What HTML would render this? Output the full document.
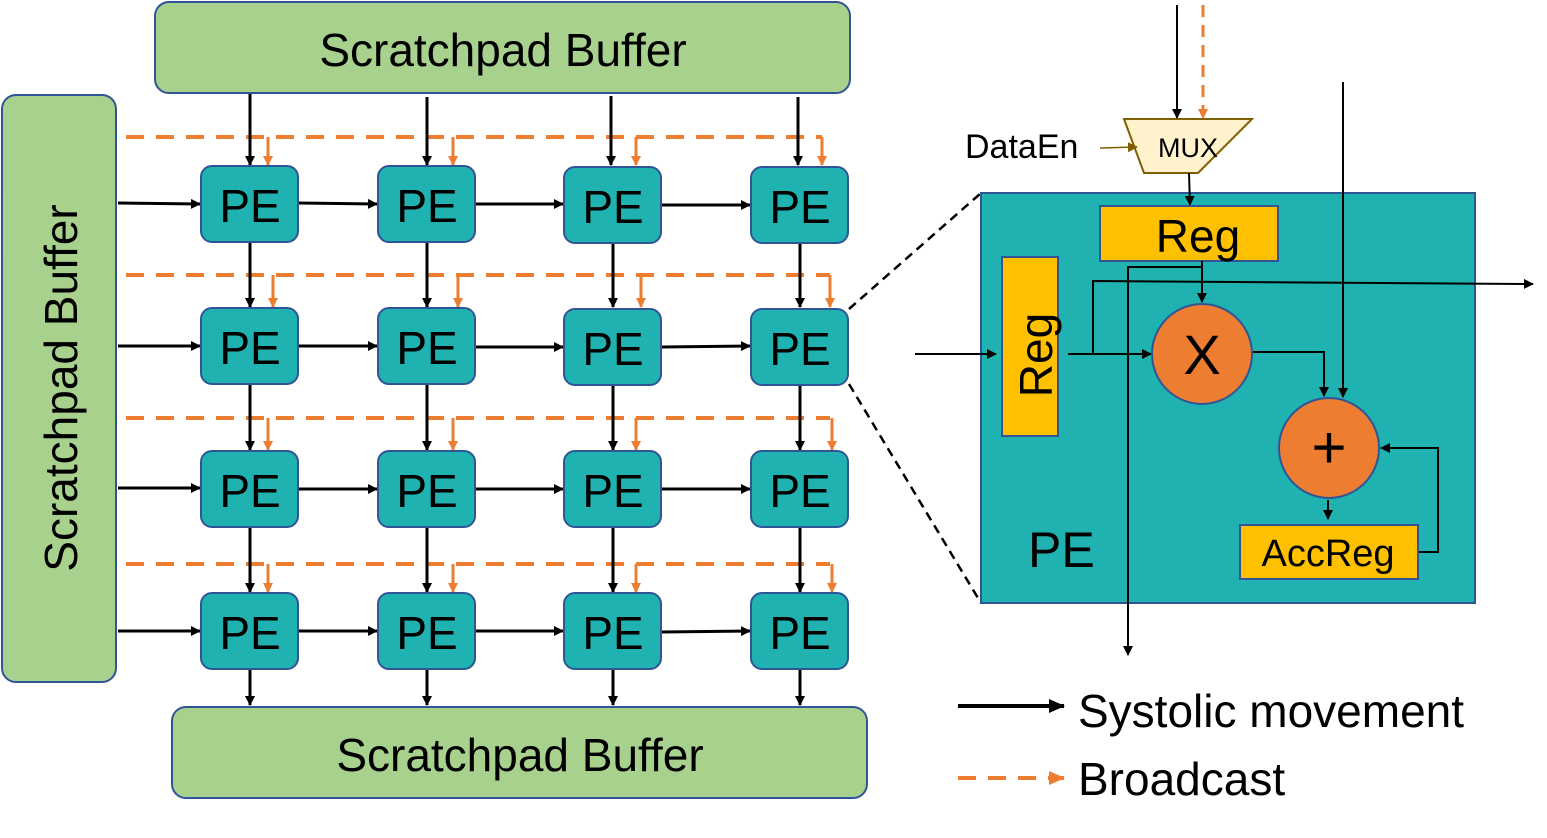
<!DOCTYPE html>
<html><head><style>body{margin:0;background:#fff}svg{display:block}text{font-family:"Liberation Sans",sans-serif}</style></head><body>
<svg width="1547" height="838" viewBox="0 0 1547 838" xmlns="http://www.w3.org/2000/svg">
<defs>
<marker id="ab" markerWidth="10" markerHeight="10" refX="9" refY="5" orient="auto" markerUnits="userSpaceOnUse"><path d="M0,0 L10,5 L0,10z" fill="#000"/></marker>
<marker id="ao" markerWidth="10" markerHeight="10" refX="9" refY="5" orient="auto" markerUnits="userSpaceOnUse"><path d="M0,0 L10,5 L0,10z" fill="#ED7D31"/></marker>
<marker id="ag" markerWidth="10" markerHeight="10" refX="9" refY="5" orient="auto" markerUnits="userSpaceOnUse"><path d="M0,0 L10,5 L0,10z" fill="#7F6000"/></marker>
<marker id="al" markerWidth="16" markerHeight="14" refX="15" refY="7" orient="auto" markerUnits="userSpaceOnUse"><path d="M0,0 L16,7 L0,14z" fill="#000"/></marker>
<marker id="alo" markerWidth="16" markerHeight="14" refX="15" refY="7" orient="auto" markerUnits="userSpaceOnUse"><path d="M0,0 L16,7 L0,14z" fill="#ED7D31"/></marker>
</defs>
<!-- buffers -->
<rect x="155" y="2" width="695" height="91" rx="14" fill="#A9D18E" stroke="#2F5597" stroke-width="2"/>
<text x="503" y="66" font-size="46" text-anchor="middle">Scratchpad Buffer</text>
<rect x="172" y="707" width="695" height="91" rx="14" fill="#A9D18E" stroke="#2F5597" stroke-width="2"/>
<text x="520" y="771" font-size="46" text-anchor="middle">Scratchpad Buffer</text>
<rect x="2" y="95" width="114" height="587" rx="14" fill="#A9D18E" stroke="#2F5597" stroke-width="2"/>
<text transform="translate(77,388) rotate(-90)" font-size="46" text-anchor="middle">Scratchpad Buffer</text>
<!-- dashed orange -->
<g stroke="#ED7D31" stroke-width="4" stroke-dasharray="18,12" fill="none">
<line x1="126" y1="137" x2="822" y2="137"/>
<line x1="126" y1="275" x2="830" y2="275"/>
<line x1="126" y1="418" x2="830" y2="418"/>
<line x1="126" y1="564" x2="830" y2="564"/>
</g>
<g stroke="#ED7D31" stroke-width="3" marker-end="url(#ao)">
<line x1="268" y1="137" x2="268" y2="165"/><line x1="453" y1="137" x2="453" y2="165"/><line x1="636" y1="137" x2="636" y2="165"/><line x1="822" y1="137" x2="822" y2="165"/>
<line x1="273" y1="275" x2="273" y2="307"/><line x1="458" y1="275" x2="458" y2="307"/><line x1="641" y1="275" x2="641" y2="307"/><line x1="830" y1="275" x2="830" y2="307"/>
<line x1="268" y1="418" x2="268" y2="450"/><line x1="453" y1="418" x2="453" y2="450"/><line x1="636" y1="418" x2="636" y2="450"/><line x1="832" y1="418" x2="832" y2="450"/>
<line x1="268" y1="564" x2="268" y2="592"/><line x1="453" y1="564" x2="453" y2="592"/><line x1="636" y1="564" x2="636" y2="592"/><line x1="832" y1="564" x2="832" y2="592"/>
</g>
<!-- black vertical -->
<g stroke="#000" stroke-width="3" marker-end="url(#ab)">
<line x1="250" y1="94" x2="250" y2="165"/><line x1="427" y1="97" x2="427" y2="165"/><line x1="611" y1="96" x2="611" y2="165"/><line x1="798" y1="97" x2="798" y2="165"/>
<line x1="250" y1="242" x2="250" y2="307"/><line x1="427" y1="242" x2="427" y2="307"/><line x1="613" y1="242" x2="613" y2="307"/><line x1="800" y1="242" x2="800" y2="307"/>
<line x1="250" y1="384" x2="250" y2="450"/><line x1="427" y1="384" x2="427" y2="450"/><line x1="613" y1="384" x2="613" y2="450"/><line x1="800" y1="384" x2="800" y2="450"/>
<line x1="250" y1="527" x2="250" y2="592"/><line x1="427" y1="527" x2="427" y2="592"/><line x1="613" y1="527" x2="613" y2="592"/><line x1="800" y1="527" x2="800" y2="592"/>
<line x1="250" y1="669" x2="250" y2="705"/><line x1="427" y1="669" x2="427" y2="705"/><line x1="613" y1="669" x2="613" y2="705"/><line x1="800" y1="669" x2="800" y2="705"/>
</g>
<!-- horizontal -->
<g stroke="#000" stroke-width="3" marker-end="url(#ab)">
<line x1="118" y1="203" x2="200" y2="204"/><line x1="298" y1="203" x2="377" y2="204"/><line x1="476" y1="204" x2="563" y2="204"/><line x1="662" y1="205" x2="750" y2="205"/>
<line x1="118" y1="346" x2="200" y2="346"/><line x1="298" y1="346" x2="377" y2="346"/><line x1="476" y1="347" x2="563" y2="347"/><line x1="662" y1="347" x2="750" y2="346"/>
<line x1="118" y1="488" x2="200" y2="488"/><line x1="298" y1="489" x2="377" y2="489"/><line x1="476" y1="489" x2="563" y2="489"/><line x1="662" y1="489" x2="750" y2="489"/>
<line x1="118" y1="631" x2="200" y2="631"/><line x1="298" y1="631" x2="377" y2="631"/><line x1="476" y1="631" x2="563" y2="631"/><line x1="662" y1="632" x2="750" y2="631"/>
</g>
<!-- PEs -->
<g fill="#20B2B0" stroke="#2F5597" stroke-width="2">
<rect x="201" y="166" width="97" height="76" rx="11"/><rect x="378" y="166" width="97" height="76" rx="11"/><rect x="564" y="167" width="97" height="76" rx="11"/><rect x="751" y="167" width="97" height="76" rx="11"/>
<rect x="201" y="308" width="97" height="76" rx="11"/><rect x="378" y="308" width="97" height="76" rx="11"/><rect x="564" y="309" width="97" height="76" rx="11"/><rect x="751" y="309" width="97" height="76" rx="11"/>
<rect x="201" y="451" width="97" height="76" rx="11"/><rect x="378" y="451" width="97" height="76" rx="11"/><rect x="564" y="451" width="97" height="76" rx="11"/><rect x="751" y="451" width="97" height="76" rx="11"/>
<rect x="201" y="593" width="97" height="76" rx="11"/><rect x="378" y="593" width="97" height="76" rx="11"/><rect x="564" y="593" width="97" height="76" rx="11"/><rect x="751" y="593" width="97" height="76" rx="11"/>
</g>
<g font-size="46" text-anchor="middle">
<text x="250" y="222">PE</text><text x="427" y="222">PE</text><text x="613" y="223">PE</text><text x="800" y="223">PE</text>
<text x="250" y="364">PE</text><text x="427" y="364">PE</text><text x="613" y="365">PE</text><text x="800" y="365">PE</text>
<text x="250" y="507">PE</text><text x="427" y="507">PE</text><text x="613" y="507">PE</text><text x="800" y="507">PE</text>
<text x="250" y="649">PE</text><text x="427" y="649">PE</text><text x="613" y="649">PE</text><text x="800" y="649">PE</text>
</g>
<!-- zoom dashed -->
<g stroke="#000" stroke-width="2.5" stroke-dasharray="9,6">
<line x1="849" y1="309" x2="981" y2="193"/><line x1="849" y1="384" x2="981" y2="603"/>
</g>
<!-- detail -->
<rect x="981" y="193" width="494" height="410" fill="#20B2B0" stroke="#2F5597" stroke-width="2"/>
<line x1="1177" y1="5" x2="1177" y2="118" stroke="#000" stroke-width="2" marker-end="url(#ab)"/>
<line x1="1203" y1="5" x2="1203" y2="118" stroke="#ED7D31" stroke-width="3" stroke-dasharray="12,8" marker-end="url(#ao)"/>
<polygon points="1125,100 1220,100 1198,146 1143,146" transform="translate(0,0)" fill="none"/>
<polygon points="1106,100 1220,100" fill="none"/>
<polygon points="1106,100 1220,100" fill="none"/>
<polygon points="1124,119 1252,119 1198,173 1144,173" fill="#FFF2CC" stroke="#7F6000" stroke-width="2"/>
<text x="1188" y="157" font-size="27" text-anchor="middle">MUX</text>
<text x="965" y="158" font-size="34">DataEn</text>
<line x1="1100" y1="148" x2="1137" y2="147" stroke="#7F6000" stroke-width="1.5" marker-end="url(#ag)"/>
<line x1="1189" y1="173" x2="1190" y2="205" stroke="#000" stroke-width="2" marker-end="url(#ab)"/>
<rect x="1100" y="206" width="178" height="55" fill="#FFC000" stroke="#2F5597" stroke-width="2"/>
<text x="1198" y="252" font-size="46" text-anchor="middle">Reg</text>
<rect x="1002" y="257" width="56" height="179" fill="#FFC000" stroke="#2F5597" stroke-width="2"/>
<text transform="translate(1052,355) rotate(-90)" font-size="46" text-anchor="middle">Reg</text>
<g stroke="#000" stroke-width="2" fill="none">
<polyline points="1202,261 1202,267 1128,267 1128,655" marker-end="url(#ab)"/>
<line x1="1202" y1="261" x2="1202" y2="302" marker-end="url(#ab)"/>
<polyline points="1093,354 1093,281 1533,284" marker-end="url(#ab)"/>
<line x1="915" y1="354" x2="996" y2="354" marker-end="url(#ab)"/>
<line x1="1068" y1="354" x2="1151" y2="354" marker-end="url(#ab)"/>
<polyline points="1253,352 1324,352 1324,396" marker-end="url(#ab)"/>
<line x1="1343" y1="82" x2="1343" y2="397" marker-end="url(#ab)"/>
<line x1="1328" y1="500" x2="1328" y2="519" marker-end="url(#ab)"/>
<polyline points="1418,552 1438,552 1438,448 1381,448" marker-end="url(#ab)"/>
</g>
<circle cx="1202" cy="354" r="50" fill="#ED7D31" stroke="#2F5597" stroke-width="2"/>
<text x="1202" y="374" font-size="56" text-anchor="middle">X</text>
<circle cx="1329" cy="448" r="50" fill="#ED7D31" stroke="#2F5597" stroke-width="2"/>
<text x="1329" y="468" font-size="60" text-anchor="middle">+</text>
<rect x="1240" y="525" width="178" height="54" fill="#FFC000" stroke="#2F5597" stroke-width="2"/>
<text x="1328" y="566" font-size="38" text-anchor="middle">AccReg</text>
<text x="1028" y="567" font-size="50">PE</text>
<!-- legend -->
<line x1="958" y1="706" x2="1064" y2="706" stroke="#000" stroke-width="4" marker-end="url(#al)"/>
<text x="1078" y="727" font-size="46">Systolic movement</text>
<line x1="958" y1="778" x2="1064" y2="778" stroke="#ED7D31" stroke-width="4" stroke-dasharray="18,12" marker-end="url(#alo)"/>
<text x="1078" y="795" font-size="46">Broadcast</text>
</svg>
</body></html>
